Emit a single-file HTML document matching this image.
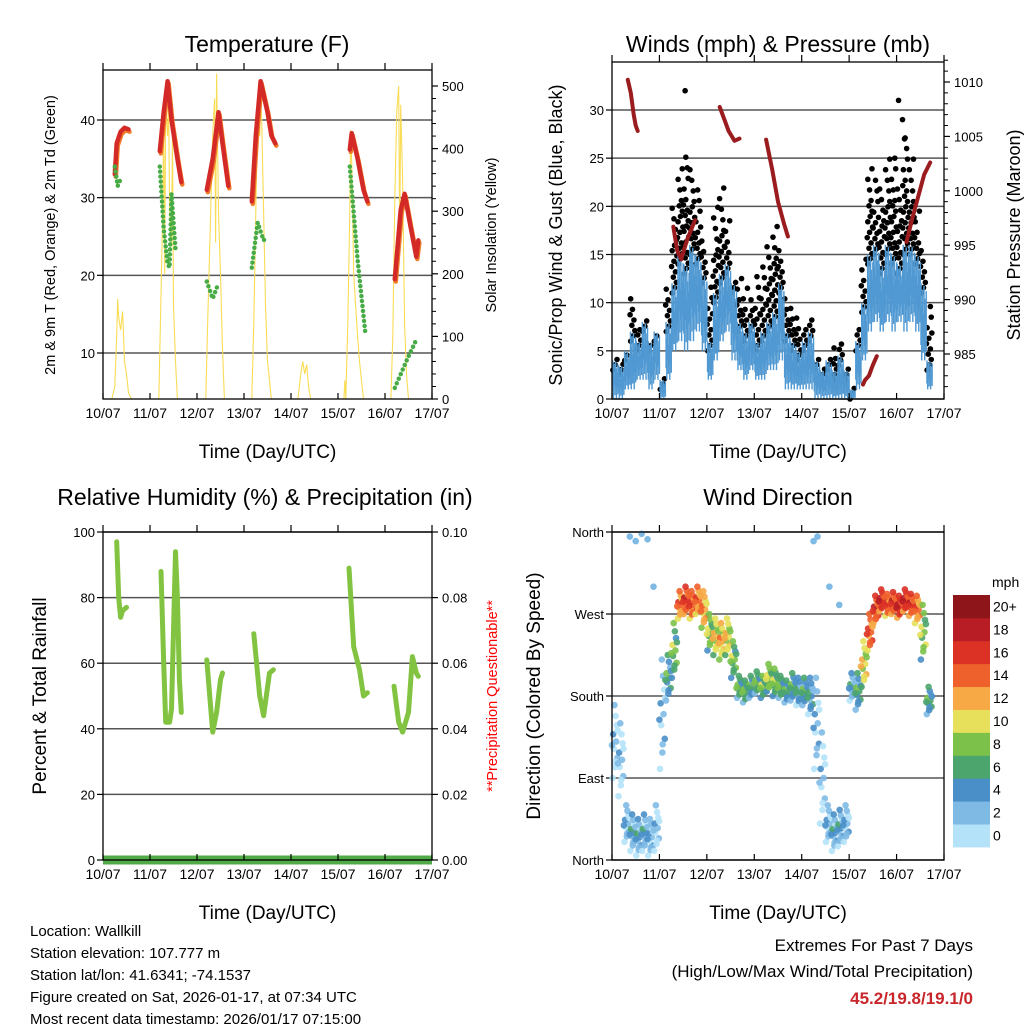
<!DOCTYPE html>
<html><head><meta charset="utf-8"><style>
html,body{margin:0;padding:0;background:#fff;}
svg{display:block;font-family:"Liberation Sans",Arial,sans-serif;}
</style></head><body>
<svg id="chart" width="1024" height="1024" viewBox="0 0 1024 1024" xmlns="http://www.w3.org/2000/svg">
<rect width="1024" height="1024" fill="#fff"/>
</svg>
<script>
// ---------- DATA ----------
const dayLabels=['10/07','11/07','12/07','13/07','14/07','15/07','16/07','17/07'];
const tempT=[6,7,9,11,13,null,29,31,33,35,38,40,null,53,56,59,61,64,null,76,78,80.5,84,86,88,null,126,127,130,133,135,null,149,152,154,157,160,161];
const tempV=[33,37,38.5,39,38.8,null,36,41,45,40,35,32,null,31,35,41,37,31.5,null,29.5,38,45,41,38,37,null,36.2,38.3,35,31,29.5,null,19.5,28.4,30.5,26.3,22.4,24.5];
const dewT=[6,7.5,9.5,null,29,31,33,34,35,37,null,53,56,59,null,76,79,82,84,null,126,130,134,null,149,155,160];
const dewV=[34,31.5,32.7,null,34,26,21.5,21,30.5,23.3,null,19.2,17,19,null,21,26.8,24.5,25,null,34,22,12.5,null,5.5,9,11.7];
const solarT=[4.5,6,7,7.5,8,9,10,11,12,13,14.5,28.5,29.5,30.5,31,31.5,32,33,33.5,34,35,35.5,36,37,38,52.5,53.5,55,56,57,57.5,58,59,60,61,62,76,77,78,79,80,80.5,81,82,83,84,86,99.5,101,102,103,104,105,106,123,123.5,124,125,126,126.5,127,128,129,130,131,133,147,148,149,150,151,151.5,152,153,154,155,156];
const solarV=[0,20,100,160,130,110,140,60,40,10,0,0,150,300,450,200,470,420,480,300,250,430,150,60,0,0,130,300,420,480,250,520,300,200,80,0,0,120,300,460,420,480,450,300,150,60,0,0,40,60,40,55,20,0,0,30,0,120,300,430,380,200,150,100,60,0,0,100,320,460,500,250,470,350,120,40,0];
const windT=[0,3,6,9,12,15,18,21,24,27,30,33,36,39,42,45,48,51,54,57,60,63,66,69,72,75,78,81,84,87,90,93,96,99,102,105,108,111,114,117,120,123,126,129,132,135,138,141,144,147,150,153,156,159];
const windHi=[4,3.5,5,7,6,8,6,7,2,8,12,15,14,16,15,13,6,11,13,14,12,8,7,8,6,7,8,9,12,7,6,5,6,7,4,3,4,3,4.5,3,1,6,10,15,16,14,16,15,14,16,16,15,12,4];
const windLo=[0,0,1,1,2,2,1,2,0,2,5,6,5,6,7,5,2,4,6,7,4,3,2,3,2,2,3,3,4,1,1,1,1,1,0,0,0,0,0,0,0,1,4,7,8,7,8,7,8,7,8,7,4,1];
const gustHi=[5,4,5,11,8,9,6,7,3,12,20,25,26,24,22,17,12,20,22,19,13,13,12,11,13,14,16,19,16,11,10,9,8,9,5,4,5,6,6,4,2,8,15,25,23,22,25,26,22,28,25,20,16,10];
const gustOutT=[37,145,147,148];
const gustOutV=[32,31,29,27];
const presT=[8,9.5,11,12,13,null,31,33,35,38,42,null,54.5,57,59,62,64.5,null,78,81,84,87,89,null,127,128,130,132,134,null,149,152,155,158,161];
const presV=[1010.2,1009,1007,1006,1005.5,null,996.7,994.5,993.7,995.5,997.3,null,1007.7,1006.5,1005.5,1004.6,1004.8,null,1004.7,1002,999,997,995.8,null,982.2,982.6,983,984,984.8,null,995.3,997.5,999.5,1001.5,1002.6];
const rhT=[7,8,9,10,12,null,29.6,31,32,34,35,36,37,38,39,40,null,53,56,58,60,61,null,77,80,82,85,87,null,125.6,128,131,133,135,null,148.6,151,153,156,158,160,161];
const rhV=[97,80,74,76,77,null,88,60,42,42,46,70,94,80,55,45,null,61,39,45,55,57,null,69,50,44,57,58,null,89,65,58,50,51,null,53,42,39,45,62,57,56];
const dirC=[130,110,40,30,25,30,25,35,160,200,230,280,285,280,285,275,250,245,240,245,220,190,185,190,195,190,200,195,190,185,190,185,185,180,150,90,40,30,35,40,190,185,215,250,275,285,280,282,278,285,280,275,250,175];
const dirSp=[40,40,20,20,20,20,20,25,60,25,30,15,15,15,15,20,20,20,20,20,20,12,12,12,12,12,15,15,12,12,15,15,15,20,50,50,20,20,20,20,15,20,25,20,15,12,12,12,12,12,12,15,30,15];
const dirSpd=[1,1,2,3,3,3,2,1,2,5,7,13,15,14,13,12,8,10,11,10,7,6,6,5,6,7,8,7,6,5,5,4,5,4,2,1,2,3,3,2,3,5,10,14,15,16,14,15,16,16,15,13,8,5];
const dirExT=[9,12,15,18,21,102,104,110,115];
const dirExD=[355,350,358,352,300,350,355,300,280];
const cbLabels=['0','2','4','6','8','10','12','14','16','18','20+'];
const cbColors=['#b4e2f8','#7fbae5','#4a8fc8','#4ba56d','#7cc24a','#e6e05a','#f6a945','#ef612c','#dc3226','#b81c25','#8e1519'];

// ---------- HELPERS ----------
const NS='http://www.w3.org/2000/svg';
const svg=document.getElementById('chart');
function el(tag,attrs,parent){const e=document.createElementNS(NS,tag);for(const k in attrs)e.setAttribute(k,attrs[k]);(parent||svg).appendChild(e);return e;}
function txt(x,y,s,size,anchor,extra){const t=el('text',Object.assign({x:x,y:y,'font-size':size,'text-anchor':anchor||'middle',fill:'#000'},extra||{}));t.textContent=s;return t;}
function lin(d0,d1,r0,r1){return v=>r0+(v-d0)/(d1-d0)*(r1-r0);}
function segPath(T,V,xf,yf){let d='',pen=false;for(let i=0;i<T.length;i++){if(V[i]===null){pen=false;continue;}d+=(pen?'L':'M')+xf(T[i]).toFixed(1)+' '+yf(V[i]).toFixed(1)+' ';pen=true;}return d;}
function spdColor(s){let i=Math.floor(s/2);if(i<0)i=0;if(i>10)i=10;return cbColors[i];}

function frame(L,R,T,B,name){
  const r=el('rect',{x:L,y:T,width:R-L,height:B-T,fill:'none',stroke:'#000','stroke-width':1.3});
  
  
  const xs=lin(0,168,L,R);
  for(let d=0;d<=7;d++){
    const x=xs(d*24);
    el('line',{x1:x,y1:B,x2:x,y2:B-6,stroke:'#000','stroke-width':1.2});
    el('line',{x1:x,y1:T,x2:x,y2:T-7,stroke:'#000','stroke-width':1.2});
    const t=txt(x,B+19,dayLabels[d],14);
    
    
  }
  const at=txt((L+R)/2,B+59,'Time (Day/UTC)',19);
  
  
  return xs;
}
function leftAxis(L,R,ys,ticks,labels,grid){
  ticks.forEach((v,i)=>{const y=ys(v);
    if(grid){const g=el('line',{x1:L,y1:y,x2:R,y2:y,stroke:'#555','stroke-width':1.5});
      
      }
    el('line',{x1:L,y1:y,x2:L-6,y2:y,stroke:'#000','stroke-width':1.2});
    const t=txt(L-8,y+5,labels[i],13,'end');
    
    
  });
}
function rightAxis(R,ys,ticks,labels,minor){
  ticks.forEach((v,i)=>{const y=ys(v);
    el('line',{x1:R,y1:y,x2:R+6,y2:y,stroke:'#000','stroke-width':1.2});
    const t=txt(R+10,y+5,labels[i],13,'start');
    
    
  });
  (minor||[]).forEach(v=>{const y=ys(v);el('line',{x1:R,y1:y,x2:R+4,y2:y,stroke:'#000','stroke-width':1});});
}
function rotTitle(x,y,s,size,color,name){
  const t=txt(x,y,s,size,'middle',{transform:'rotate(-90 '+x+' '+y+')',fill:color||'#000'});
  
  
}

// ---------- PANEL 1: TEMPERATURE ----------
(function(){
  const L=103,R=432,T=70,B=399;
  const ty=lin(10,40,353,120), sy=lin(0,500,399,86);
  const xs=lin(0,168,L,R);
  leftAxis(L,R,ty,[10,20,30,40],['10','20','30','40'],true);
  const minor=[];for(let v=20;v<=500;v+=20)if(v%100)minor.push(v);
  rightAxis(R,sy,[0,100,200,300,400,500],['0','100','200','300','400','500'],minor);
  const sp=el('path',{d:segPath(solarT,solarV,xs,sy),fill:'none',stroke:'#f9dc55','stroke-width':1.1});
  
  
  const o=el('path',{d:segPath(tempT,tempV.map(v=>v===null?null:v-0.3),v=>xs(v)+1,ty),fill:'none',stroke:'#f07a2a','stroke-width':4.5,'stroke-linecap':'round','stroke-linejoin':'round'});
  
  
  const r=el('path',{d:segPath(tempT,tempV,xs,ty),fill:'none',stroke:'#d42a27','stroke-width':4.5,'stroke-linecap':'round','stroke-linejoin':'round'});
  
  
  const d=el('path',{d:segPath(dewT,dewV,xs,ty),fill:'none',stroke:'#47ab46','stroke-width':4.5,'stroke-dasharray':'0 5','stroke-linecap':'round'});
  
  
  frame(L,R,T,B,'temperature-plot-frame');
  const t=txt(267,52,'Temperature (F)',23);
  
  
  rotTitle(55,235,'2m & 9m T (Red, Orange) & 2m Td (Green)',14.5,'#000','temperature-y-axis-title');
  rotTitle(496,235,'Solar Insolation (Yellow)',14.5,'#000','solar-y-axis-title');
})();

// ---------- PANEL 2: WINDS ----------
(function(){
  const L=612,R=944,T=62,B=399;
  const wy=lin(0,30,399,110), py=lin(985,1010,354,82);
  const xs=lin(0,168,L,R);
  leftAxis(L,R,wy,[0,5,10,15,20,25,30],['0','5','10','15','20','25','30'],true);
  const minor=[];for(let v=982;v<=1012;v++)if(v%5)minor.push(v);
  rightAxis(R,py,[985,990,995,1000,1005,1010],['985','990','995','1000','1005','1010'],minor);
  const bw=xs(3)-xs(0);
  const offs=[0.15,0.55,0.85,0.35,0.7,0.05,0.45,0.95];
  windT.forEach((h,i)=>{
    let k=0;
    for(let v=windHi[i]-1;v<=gustHi[i];v+=0.55){
      const frac=(v-windHi[i])/Math.max(1,gustHi[i]-windHi[i]);
      if(frac>0.55 && k%2===1){k++;continue;}
      const c=el('circle',{cx:xs(h)+bw*offs[k%8],cy:wy(v),r:2.8,fill:'#000'});
      
      
      k++;
    }
  });
  gustOutT.forEach((h,i)=>{
    const c=el('circle',{cx:xs(h),cy:wy(gustOutV[i]),r:2.8,fill:'#000'});
    
    
  });
  const pHi=[1,0.72,0.92,0.6,0.97,0.8,0.68,0.9];
  const pLo=[0.2,0,0.35,0.1,0.25,0,0.3,0.12];
  const sw=bw/8;
  windT.forEach((h,i)=>{
    for(let k=0;k<8;k++){
      const span=windHi[i]-windLo[i];
      const top=windLo[i]+span*pHi[k], bot=windLo[i]+span*pLo[k];
      const rct=el('rect',{x:xs(h)+k*sw,y:wy(top),width:sw+0.7,height:Math.max(1,wy(bot)-wy(top)),fill:'#5199d2'});
      
      
    }
  });
  const p=el('path',{d:segPath(presT,presV,xs,py),fill:'none',stroke:'#9b1c1f','stroke-width':4,'stroke-linecap':'round','stroke-linejoin':'round'});
  
  
  frame(L,R,T,B,'winds-plot-frame');
  const t=txt(778,52,'Winds (mph) & Pressure (mb)',23);
  
  
  rotTitle(562,235,'Sonic/Prop Wind & Gust (Blue, Black)',18,'#000','wind-y-axis-title');
  rotTitle(1020,235,'Station Pressure (Maroon)',18,'#000','pressure-y-axis-title');
})();

// ---------- PANEL 3: RH ----------
(function(){
  const L=103,R=432,T=532,B=860;
  const ry=lin(0,100,860,532), qy=lin(0,0.1,860,532);
  const xs=lin(0,168,L,R);
  leftAxis(L,R,ry,[0,20,40,60,80,100],['0','20','40','60','80','100'],true);
  rightAxis(R,qy,[0,0.02,0.04,0.06,0.08,0.1],['0.00','0.02','0.04','0.06','0.08','0.10']);
  const rh=el('path',{d:segPath(rhT,rhV,xs,ry),fill:'none',stroke:'#82c341','stroke-width':5,'stroke-linecap':'round','stroke-linejoin':'round'});
  
  
  const pr=el('rect',{x:L,y:qy(0)-4.5,width:R-L,height:9,fill:'#4faa47'});
  
  
  frame(L,R,T,B,'rh-plot-frame');
  const t=txt(265,505,'Relative Humidity (%) & Precipitation (in)',23);
  
  
  rotTitle(46,696,'Percent & Total Rainfall',19,'#000','rh-y-axis-title');
  rotTitle(497,696,'**Precipitation Questionable**',14.5,'#ff0000','precip-warning-title');
})();

// ---------- PANEL 4: WIND DIRECTION ----------
(function(){
  const L=612,R=944,T=532,B=860;
  const dy=lin(0,360,860,532);
  const xs=lin(0,168,L,R);
  leftAxis(L,R,dy,[0,90,180,270,360],['North','East','South','West','North'],true);
  const bw=xs(3)-xs(0);
  const ko=[-1,-0.7,-0.45,-0.2,0,0.2,0.45,0.7,1,-0.1,0.3,-0.55];
  const xo=[0.1,0.5,0.9,0.3,0.7,0.2,0.8,0.6,0.4,0.0,0.95,0.55];
  const so=[-3,0,2,-1,1,3,-2,0,1,2,-1,0];
  windT.forEach((h,i)=>{
    ko.forEach((k,j)=>{
      let d=dirC[i]+dirSp[i]*k; if(d>360)d-=360; if(d<0)d+=360;
      const c=el('circle',{cx:xs(h)+bw*xo[j],cy:dy(d),r:3.3,fill:spdColor(dirSpd[i]+so[j]),'fill-opacity':0.9});
      
      
    });
  });
  dirExT.forEach((h,i)=>{
    const c=el('circle',{cx:xs(h),cy:dy(dirExD[i]),r:3.3,fill:cbColors[1]});
    
    
  });
  frame(L,R,T,B,'direction-plot-frame');
  const t=txt(778,505,'Wind Direction',23);
  
  
  rotTitle(540,696,'Direction (Colored By Speed)',19,'#000','direction-y-axis-title');
  const cb=el('g',{});
  
  
  const cbT=595,cbB=847,h=(cbB-cbT)/cbColors.length;
  cbColors.forEach((c,i)=>{
    const y=cbB-(i+1)*h;
    const r=el('rect',{x:953,y:y,width:37,height:h+0.4,fill:c},cb);
    
    
    const l=txt(993,y+h/2+5,cbLabels[i],14,'start');
    
    
  });
  const m=txt(992,587,'mph',14,'start');
  
  
})();

// ---------- FOOTER ----------
const info=['Location: Wallkill','Station elevation: 107.777 m','Station lat/lon: 41.6341; -74.1537','Figure created on Sat, 2026-01-17, at 07:34 UTC','Most recent data timestamp: 2026/01/17 07:15:00'];
info.forEach((s,i)=>{
  const t=txt(30,936+i*22,s,15,'start');
  
  
});
const e1=txt(973,951,'Extremes For Past 7 Days',17,'end');


const e2=txt(973,977,'(High/Low/Max Wind/Total Precipitation)',17,'end');


const e3=txt(973,1004,'45.2/19.8/19.1/0',17,'end',{fill:'#c8262b','font-weight':'bold'});


</script>
</body></html>
